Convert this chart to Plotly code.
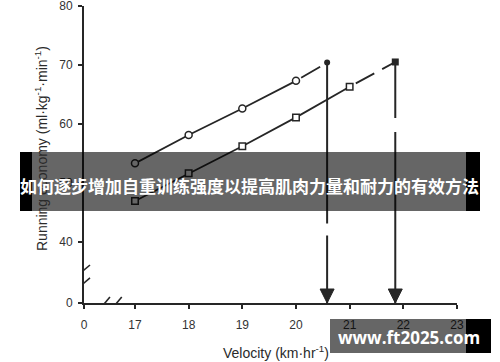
import plotly.graph_objects as go

# ---------------- data ----------------
x_tick_values = [0, 17, 18, 19, 20, 21, 22, 23]
y_tick_values = [0, 40, 50, 60, 70, 80]

velocity_circles = [17, 18, 19, 20]
economy_circles = [53.3, 58.1, 62.6, 67.3]
velocity_squares = [17, 18, 19, 20, 21]
economy_squares = [46.9, 51.6, 56.2, 61.1, 66.3]

vmax_circle = [20.58]
vo2max_circle = [70.4]
vmax_square = [21.85]
vo2max_square = [70.5]

banner_text = "如何逐步增加自重训练强度以提高肌肉力量和耐力的有效方法"
watermark_text = "www.ft2025.com"

# ---------------- broken-axis placement ----------------
X_ZERO_POS = 16.05   # where "0" sits on the broken x axis
Y_ZERO_POS = 29.6    # where "0" sits on the broken y axis
X_MAX = 23
Y_MAX = 80

W, H = 500, 362
ML, MR, MT, MB = 84, 43, 6, 59
PW, PH = W - ML - MR, H - MT - MB


def px(xp):
    return (xp - ML) / PW


def py(yp):
    return (H - MB - yp) / PH


INK = "#262626"

fig = go.Figure()

# vertical drop lines from the maximal points
fig.add_trace(go.Scatter(x=[vmax_circle[0], vmax_circle[0]], y=[vo2max_circle[0], Y_ZERO_POS],
                         mode="lines", line=dict(color=INK, width=2, dash="161px,12px,300px"),
                         hoverinfo="skip", showlegend=False))
fig.add_trace(go.Scatter(x=[vmax_square[0], vmax_square[0]], y=[vo2max_square[0], Y_ZERO_POS],
                         mode="lines", line=dict(color=INK, width=2, dash="56px,14px,300px"),
                         hoverinfo="skip", showlegend=False))
# arrowheads
fig.add_trace(go.Scatter(x=[vmax_circle[0], vmax_square[0]], y=[Y_ZERO_POS, Y_ZERO_POS],
                         mode="markers",
                         marker=dict(symbol="arrow-down", size=14, color=INK, line=dict(color=INK, width=1)),
                         hoverinfo="skip", showlegend=False))

# dashed extrapolations
fig.add_trace(go.Scatter(x=[velocity_circles[-1], vmax_circle[0]], y=[economy_circles[-1], vo2max_circle[0]],
                         mode="lines", line=dict(color=INK, width=1.8, dash="0px,6px,22px,30px"),
                         hoverinfo="skip", showlegend=False))
fig.add_trace(go.Scatter(x=[velocity_squares[-1], vmax_square[0]], y=[economy_squares[-1], vo2max_square[0]],
                         mode="lines", line=dict(color=INK, width=1.8, dash="0px,7px,21px,9px,40px"),
                         hoverinfo="skip", showlegend=False))

# measured series
fig.add_trace(go.Scatter(x=velocity_circles, y=economy_circles, mode="lines+markers",
                         line=dict(color=INK, width=1.8),
                         marker=dict(symbol="circle", size=7, color="white", line=dict(color=INK, width=1.5)),
                         showlegend=False))
fig.add_trace(go.Scatter(x=velocity_squares, y=economy_squares, mode="lines+markers",
                         line=dict(color=INK, width=1.8),
                         marker=dict(symbol="square", size=6.5, color="white", line=dict(color=INK, width=1.5)),
                         showlegend=False))
# maximal points
fig.add_trace(go.Scatter(x=vmax_circle, y=vo2max_circle, mode="markers",
                         marker=dict(symbol="circle", size=6, color=INK), showlegend=False))
fig.add_trace(go.Scatter(x=vmax_square, y=vo2max_square, mode="markers",
                         marker=dict(symbol="square", size=7, color=INK), showlegend=False))

x_tickvals = [X_ZERO_POS if v == 0 else v for v in x_tick_values]
y_tickvals = [Y_ZERO_POS if v == 0 else v for v in y_tick_values]

axis_common = dict(showgrid=False, zeroline=False, showline=True, linecolor=INK, linewidth=2,
                   ticks="outside", ticklen=4, tickwidth=1.5, tickcolor=INK, automargin=False,
                   ticklabeloverflow="allow",
                   tickfont=dict(family="Liberation Sans, Arial", size=12, color="#333"))

fig.update_xaxes(range=[X_ZERO_POS, X_MAX], tickvals=x_tickvals,
                 ticktext=[str(v) for v in x_tick_values], ticklabelstandoff=6, **axis_common)
fig.update_yaxes(range=[Y_ZERO_POS, Y_MAX], tickvals=y_tickvals,
                 ticktext=[str(v) for v in y_tick_values], ticklabelstandoff=3, **axis_common)

shapes = []
# axis breaks: white gaps + slashes
shapes.append(dict(type="rect", xref="x", xsizemode="pixel", xanchor=X_ZERO_POS, x0=-4, x1=4,
                   yref="y", y0=33.0, y1=35.2, fillcolor="white", line=dict(width=0), layer="above"))
shapes.append(dict(type="rect", yref="y", ysizemode="pixel", yanchor=Y_ZERO_POS, y0=-4, y1=4,
                   xref="x", x0=16.44, x1=16.66, fillcolor="white", line=dict(width=0), layer="above"))
for yv in (33.0, 35.2):
    shapes.append(dict(type="line", xref="x", xsizemode="pixel", xanchor=X_ZERO_POS, x0=-6, x1=6,
                       yref="y", ysizemode="pixel", yanchor=yv, y0=-5, y1=5,
                       line=dict(color=INK, width=1.6), layer="above"))
for xv in (16.44, 16.66):
    shapes.append(dict(type="line", xref="x", xsizemode="pixel", xanchor=xv, x0=-5, x1=5,
                       yref="y", ysizemode="pixel", yanchor=Y_ZERO_POS, y0=-6, y1=6,
                       line=dict(color=INK, width=1.6), layer="above"))

# banner overlay
shapes.append(dict(type="rect", xref="paper", yref="paper", x0=px(32), x1=px(466), y0=py(211), y1=py(152),
                   fillcolor="rgba(0,0,0,0.6)", line=dict(width=0), layer="above"))
shapes.append(dict(type="rect", xref="paper", yref="paper", x0=px(20), x1=px(32), y0=py(211), y1=py(152),
                   fillcolor="black", line=dict(width=0), layer="above"))
shapes.append(dict(type="rect", xref="paper", yref="paper", x0=px(466), x1=px(480), y0=py(211), y1=py(152),
                   fillcolor="black", line=dict(width=0), layer="above"))
# watermark box
shapes.append(dict(type="rect", xref="paper", yref="paper", x0=px(330), x1=px(466), y0=py(353), y1=py(319),
                   fillcolor="rgba(0,0,0,0.6)", line=dict(width=0), layer="above"))
shapes.append(dict(type="rect", xref="paper", yref="paper", x0=px(466), x1=px(491), y0=py(353), y1=py(319),
                   fillcolor="black", line=dict(width=0), layer="above"))

annotations = [
    dict(text="Running economy (ml·kg<sup>-1</sup>·min<sup>-1</sup>)", textangle=-90,
         xref="paper", yref="paper", x=px(41), y=py(149), xanchor="center", yanchor="middle",
         showarrow=False, font=dict(family="Liberation Sans, Arial", size=14, color="#2a2a2a")),
    dict(text="Velocity (km·hr<sup>-1</sup>)",
         xref="paper", yref="paper", x=px(276), y=py(352), xanchor="center", yanchor="middle",
         showarrow=False, font=dict(family="Liberation Sans, Arial", size=14, color="#2a2a2a")),
    dict(text="<b>" + banner_text + "</b>",
         xref="paper", yref="paper", x=px(249), y=py(185), xanchor="center", yanchor="middle",
         showarrow=False, font=dict(family="Noto Sans CJK SC", size=17, color="white")),
    dict(text="<b>" + watermark_text + "</b>",
         xref="paper", yref="paper", x=px(408.5), y=py(337), xanchor="center", yanchor="middle",
         showarrow=False, font=dict(family="Open Sans", size=17, color="white")),
]

fig.update_layout(width=W, height=H, margin=dict(l=ML, r=MR, t=MT, b=MB),
                  paper_bgcolor="white", plot_bgcolor="white",
                  shapes=shapes, annotations=annotations, showlegend=False)

fig.write_html("out.html", config={"displayModeBar": False},
               post_script="document.body.style.margin='0';")
